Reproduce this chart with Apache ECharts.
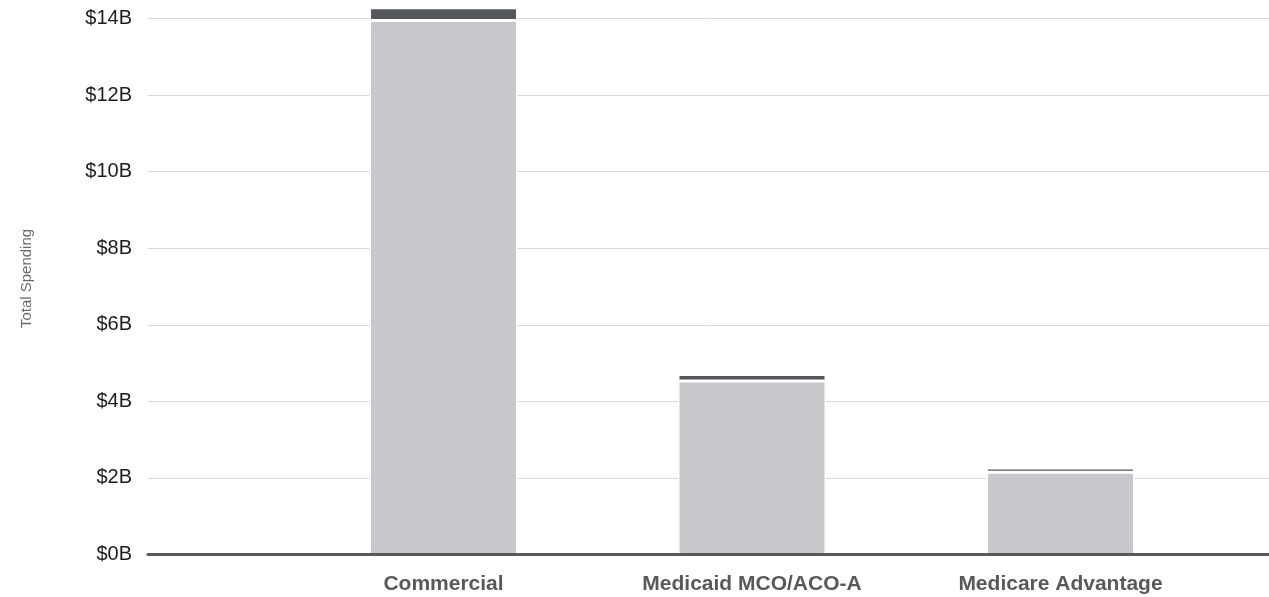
<!DOCTYPE html>
<html>
<head>
<meta charset="utf-8">
<script src="https://cdn.jsdelivr.net/npm/echarts@6/dist/echarts.min.js"></script>
<style>
  html, body { margin: 0; padding: 0; background: #fff; }
  #chart { width: 1269px; height: 597px; }
</style>
</head>
<body>
<div id="chart"></div>
<script>
// values in billions of dollars
const categories = ['Commercial', 'Medicaid MCO/ACO-A', 'Medicare Advantage'];
const lowerSpend = [13.95, 4.53, 2.15];
const upperSpend = [0.33, 0.17, 0.11];
const yMin = 0;
const yMax = 14;
const yStep = 2;

const font = "'Liberation Sans', Arial, sans-serif";
const chart = echarts.init(document.getElementById('chart'), null, { renderer: 'canvas' });

const option = {
    animation: false,
    grid: [
        // background grid: y labels, split lines, baseline
        { left: 148, right: 0, top: 18.5, bottom: 42.5 },
        // bars
        { left: 289.25, right: 54.25, top: 18.5, bottom: 42.5 }
    ],
    xAxis: [
        {
            gridIndex: 0, type: 'value', min: 0, max: 1, z: 5,
            axisLine: { show: true, lineStyle: { color: '#58595c', width: 3 } },
            axisTick: { show: false }, axisLabel: { show: false }, splitLine: { show: false }
        },
        {
            gridIndex: 1, type: 'category', data: categories,
            axisLine: { show: false }, axisTick: { show: false },
            axisLabel: { margin: 19, fontFamily: font, fontSize: 21, fontWeight: 'bold', color: '#58595c' }
        }
    ],
    yAxis: [
        {
            gridIndex: 0, type: 'value', min: yMin, max: yMax, interval: yStep,
            name: 'Total Spending', nameLocation: 'middle', nameRotate: 90, nameGap: 114,
            nameTextStyle: { fontFamily: font, fontSize: 15, color: '#6b6b6b', padding: [0, 0, 0, 16] },
            axisLine: { show: false }, axisTick: { show: false },
            axisLabel: { margin: 16, fontFamily: font, fontSize: 20, color: '#1c1c1c', formatter: v => '$' + v + 'B' },
            splitLine: { lineStyle: { color: '#d9d9d9', width: 1 } }
        },
        {
            gridIndex: 1, type: 'value', min: yMin, max: yMax, interval: yStep, show: false
        }
    ],
    series: [
        {
            name: 'Lower', type: 'bar', stack: 'spend', xAxisIndex: 1, yAxisIndex: 1,
            data: lowerSpend, barWidth: 148, clip: false,
            itemStyle: { color: '#c8c7cc', borderColor: '#ffffff', borderWidth: 1.5 }
        },
        {
            name: 'Upper', type: 'bar', stack: 'spend', xAxisIndex: 1, yAxisIndex: 1,
            data: upperSpend, barWidth: 148, clip: false,
            itemStyle: { color: '#55575b', borderColor: '#ffffff', borderWidth: 1.5 }
        }
    ]
};

chart.setOption(option);
</script>
</body>
</html>
